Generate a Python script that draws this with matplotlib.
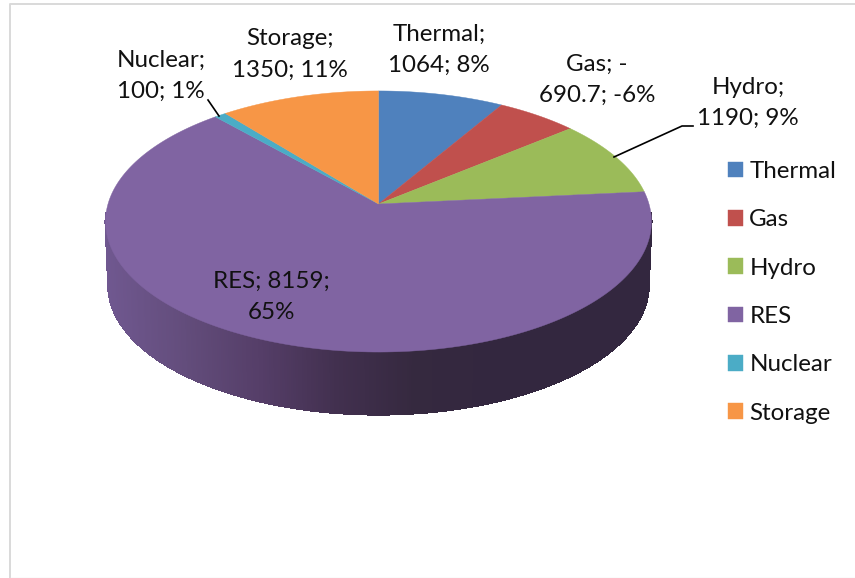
import matplotlib
matplotlib.use('Agg')
import matplotlib.pyplot as plt
from matplotlib.colors import LinearSegmentedColormap
import numpy as np

# data
sources = ['Thermal', 'Gas', 'Hydro', 'RES', 'Nuclear', 'Storage']
values = [1064, -690.7, 1190, 8159, 100, 1350]
value_text = ['1064', '-690.7', '1190', '8159', '100', '1350']
percents = ['8%', '-6%', '9%', '65%', '1%', '11%']
colors = ['#4f81bd', '#c0504d', '#9bbb59', '#8064a2', '#4bacc6', '#f79646']

# label line breaks follow the original chart
labels = [
    f'{sources[0]};\n{value_text[0]}; {percents[0]}',
    f'{sources[1]}; -\n{value_text[1][1:]}; {percents[1]}',
    f'{sources[2]};\n{value_text[2]}; {percents[2]}',
    f'{sources[3]}; {value_text[3]};\n{percents[3]}',
    f'{sources[4]};\n{value_text[4]}; {percents[4]}',
    f'{sources[5]};\n{value_text[5]}; {percents[5]}',
]
label_x = [439, 597, 748, 271, 161, 290]
label_y = [50, 80, 103, 297, 76, 54.5]

# pie geometry in pixels
cx, cy = 378.5, 204.
rx, ry = 270.5, 128.2
k = 0.134
depth = 64.

plt.rcParams['font.family'] = ['Lato', 'DejaVu Sans']
fsize = 17.4


def project(ang, scale=1., dy=0.):
    # ang is clockwise from 12 o'clock, far side of the disc is squeezed
    d = 1 + k*np.cos(ang)
    return cx + scale*rx*np.sin(ang)/d, cy + dy - scale*ry*np.cos(ang)/d


fig = plt.figure(figsize=(8.55, 5.78), dpi=100)
ax = fig.add_axes([0, 0, 1, 1])
ax.set_xlim(0, 855)
ax.set_ylim(578, 0)
ax.axis('off')

# chart frame
ax.plot([855, 10, 10], [3.5, 3.5, 577], color='#d9d9d9', lw=1.4)
ax.plot([10, 855], [577.5, 577.5], color='#ececec', lw=1.)

# side wall, as thin strips from left to right
wall = LinearSegmentedColormap.from_list(
    'wall', ['#705890', '#634d7c', '#553e68', '#42304f', '#35293f', '#33273f'])
th = np.linspace(-np.pi*0.52, -np.pi*1.48, 400)
for i in range(len(th)-1):
    a = th[i:i+2]
    x1, y1 = project(a)
    x2, y2 = project(a, scale=0.99, dy=depth)
    t = (x1.mean()-105.)/(540.*0.72)
    ax.fill([x1[0], x1[1], x2[1], x2[0]], [y1[0], y1[1], y2[1], y2[0]],
            color=wall(min(t, 1.)), lw=0.8, antialiased=False)

# top face
fracs = np.abs(values)/np.abs(values).sum()
edges = np.concatenate([[0], np.cumsum(fracs)])*2*np.pi
for i in range(len(sources)):
    a = np.linspace(edges[i], edges[i+1], 200)
    x, y = project(a)
    ax.fill(np.r_[cx, x], np.r_[cy, y], color=colors[i], lw=0.3, label=sources[i])

# leader lines
ax.plot([208, 219], [100, 116], color='k', lw=1.2)
ax.plot([693, 682, 614], [126, 126, 157], color='k', lw=1.2)

for i in range(len(labels)):
    ax.text(label_x[i], label_y[i], labels[i], ha='center', va='center',
            fontsize=fsize, color='#111111', linespacing=1.6)

ax.legend(loc='upper left', bbox_to_anchor=(728/855, 1-161/578), frameon=False,
          fontsize=fsize, handlelength=0.62, handleheight=0.62, handletextpad=0.26,
          labelspacing=1.13, borderpad=0, borderaxespad=0, labelcolor='#111111')

fig.savefig('out.png', dpi=100)
